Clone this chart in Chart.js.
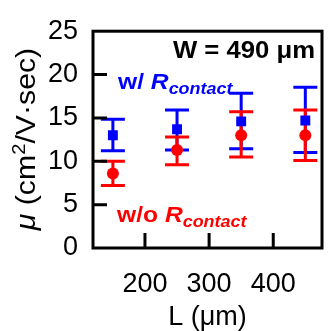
<!DOCTYPE html>
<html><head><meta charset="utf-8">
<script src="https://cdn.jsdelivr.net/npm/chart.js@4"></script>
<style>html,body{margin:0;padding:0;background:#fff;overflow:hidden}canvas{display:block}</style>
</head><body>
<canvas id="c" width="329" height="331"></canvas>
<script>
// ---- data ----
const lengths = [150, 250, 350, 450];               // L (µm)
const muWithR = [13.0, 13.7, 14.6, 14.7];           // w/ R_contact
const muWithRHigh = [14.85, 15.9, 17.85, 18.55];
const muWithRLow = [11.2, 11.3, 11.45, 11.0];
const muWithoutR = [8.6, 11.3, 13.0, 13.0];         // w/o R_contact
const muWithoutRHigh = [10.0, 12.8, 15.7, 15.9];
const muWithoutRLow = [7.2, 9.6, 10.5, 10.1];
const xTicks = [200, 300, 400];
const yTicks = [0, 5, 10, 15, 20, 25];

const BLUE = '#0000ff', RED = '#ff0000';
const FAM = '"Liberation Sans", Arial, sans-serif';

function drawRich(ctx, parts, x, y, sx, align) {
  ctx.save();
  ctx.translate(x, y);
  ctx.scale(sx, 1);
  ctx.textAlign = 'left';
  ctx.textBaseline = 'alphabetic';
  let w = 0;
  parts.forEach(p => { ctx.font = p.font; p.w = ctx.measureText(p.text).width; w += p.w; });
  let cx = align === 'center' ? -w / 2 : align === 'right' ? -w : 0;
  parts.forEach(p => {
    ctx.font = p.font; ctx.fillStyle = p.color;
    ctx.fillText(p.text, cx, p.dy || 0);
    cx += p.w;
  });
  ctx.restore();
}

const deco = {
  id: 'deco',
  beforeDatasetsDraw(chart) {
    const ctx = chart.ctx, xs = chart.scales.x, ys = chart.scales.y;
    ctx.save();
    ctx.lineWidth = 3;
    ctx.lineCap = 'butt';
    const order = chart.data.datasets.slice().reverse();
    order.forEach(ds => {
      ctx.strokeStyle = ds.borderColor;
      ds.data.forEach((pt, i) => {
        const px = xs.getPixelForValue(pt.x);
        const hi = ys.getPixelForValue(ds.errHigh[i]);
        const lo = ys.getPixelForValue(ds.errLow[i]);
        ctx.beginPath();
        ctx.moveTo(px, hi); ctx.lineTo(px, lo);
        ctx.moveTo(px - 12, hi); ctx.lineTo(px + 12, hi);
        ctx.moveTo(px - 12, lo); ctx.lineTo(px + 12, lo);
        ctx.stroke();
      });
    });
    ctx.restore();
  },
  afterDraw(chart) {
    const ctx = chart.ctx, xs = chart.scales.x, ys = chart.scales.y;
    const a = chart.chartArea;
    ctx.save();
    ctx.strokeStyle = '#000';
    ctx.lineWidth = 3;
    ctx.strokeRect(a.left, a.top, a.right - a.left, a.bottom - a.top);
    ctx.beginPath();
    yTicks.filter(v => v > ys.min && v < ys.max).forEach(v => {
      const py = ys.getPixelForValue(v);
      ctx.moveTo(a.left, py); ctx.lineTo(a.left + 14, py);
    });
    xTicks.forEach(v => {
      const px = xs.getPixelForValue(v);
      ctx.moveTo(px, a.bottom); ctx.lineTo(px, a.bottom - 15);
    });
    ctx.stroke();
    ctx.restore();

    // y-axis title
    ctx.save();
    ctx.translate(35, 139);
    ctx.rotate(-Math.PI / 2);
    drawRich(ctx, [
      { text: 'μ', font: 'italic 27px ' + FAM, color: '#000' },
      { text: ' (cm', font: '27px ' + FAM, color: '#000' },
      { text: '2', font: '18px ' + FAM, color: '#000', dy: -10 },
      { text: '/V·sec)', font: '27px ' + FAM, color: '#000' }
    ], 0, 0, 1.12, 'center');
    ctx.restore();

    // annotations
    drawRich(ctx, [
      { text: 'W = 490 μm', font: 'bold 24px ' + FAM, color: '#000' }
    ], a.right - 7, a.top + 27, 1.07, 'right');
    drawRich(ctx, [
      { text: 'w/ ', font: 'bold 22px ' + FAM, color: BLUE },
      { text: 'R', font: 'italic bold 22px ' + FAM, color: BLUE },
      { text: 'contact', font: 'italic bold 16px ' + FAM, color: BLUE, dy: 5 }
    ], a.left + 25, a.top + 58, 1.12, 'left');
    drawRich(ctx, [
      { text: 'w/o ', font: 'bold 22px ' + FAM, color: RED },
      { text: 'R', font: 'italic bold 22px ' + FAM, color: RED },
      { text: 'contact', font: 'italic bold 16px ' + FAM, color: RED, dy: 5 }
    ], a.left + 24, a.top + 191, 1.12, 'left');
  }
};

new Chart(document.getElementById('c'), {
  type: 'scatter',
  data: {
    datasets: [
      {
        label: 'w/o R_contact',
        data: lengths.map((L, i) => ({ x: L, y: muWithoutR[i] })),
        errHigh: muWithoutRHigh, errLow: muWithoutRLow,
        pointStyle: 'circle', pointRadius: 6, pointHoverRadius: 6,
        backgroundColor: RED, borderColor: RED, borderWidth: 0, showLine: false
      },
      {
        label: 'w/ R_contact',
        data: lengths.map((L, i) => ({ x: L, y: muWithR[i] })),
        errHigh: muWithRHigh, errLow: muWithRLow,
        pointStyle: 'rect', pointRadius: 7, pointHoverRadius: 7,
        backgroundColor: BLUE, borderColor: BLUE, borderWidth: 0, showLine: false
      }
    ]
  },
  options: {
    responsive: false,
    animation: false,
    events: [],
    layout: { padding: { top: 23, right: 2, left: 0, bottom: 0 } },
    plugins: { legend: { display: false }, tooltip: { enabled: false } },
    scales: {
      x: {
        type: 'linear', min: 119, max: 476,
        afterFit(s) { s.height = 83; },
        afterBuildTicks(s) { s.ticks = xTicks.map(v => ({ value: v })); },
        grid: { display: false, drawTicks: false },
        border: { display: false },
        ticks: { font: { family: FAM, size: 27 }, color: '#000', padding: 20, maxRotation: 0, autoSkip: false },
        title: { display: true, text: 'L (μm)', color: '#000', font: { family: FAM, size: 27, lineHeight: 1 }, padding: { top: 0, bottom: 0 } }
      },
      y: {
        type: 'linear', min: 0, max: 25,
        afterFit(s) { s.width = 93; },
        afterBuildTicks(s) { s.ticks = yTicks.map(v => ({ value: v })); },
        grid: { display: false, drawTicks: false },
        border: { display: false },
        ticks: { font: { family: FAM, size: 27 }, color: '#000', padding: 15, autoSkip: false }
      }
    }
  },
  plugins: [deco]
});
</script>
</body></html>
